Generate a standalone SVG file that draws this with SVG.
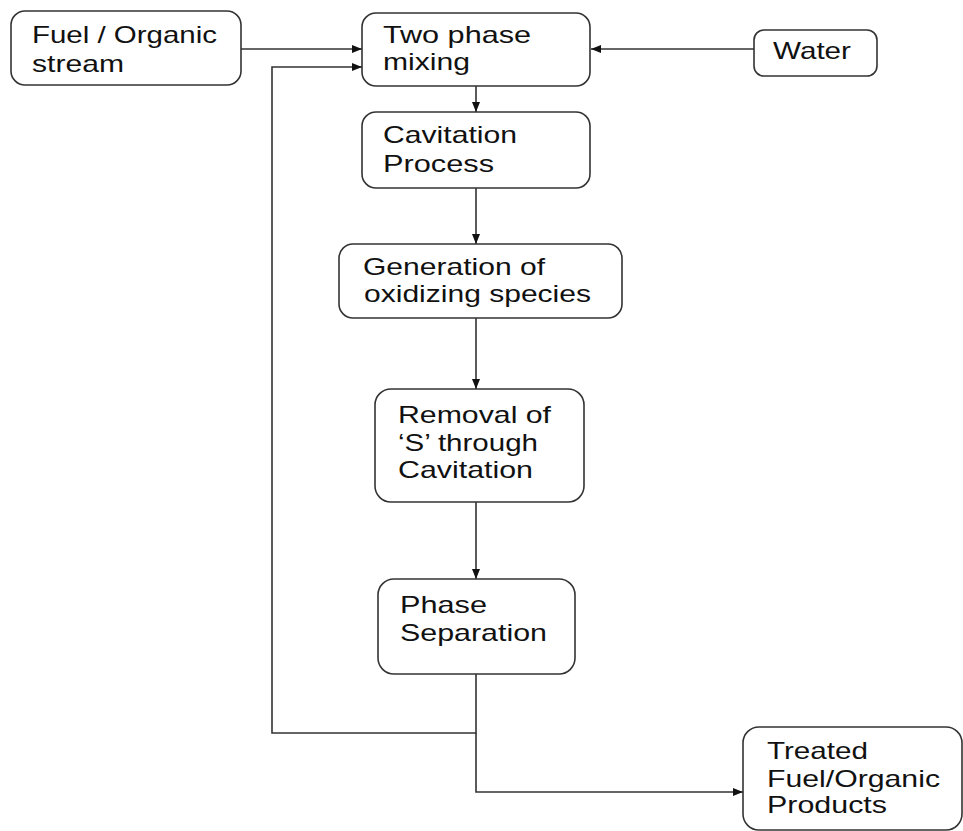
<svg xmlns="http://www.w3.org/2000/svg" width="963" height="831" viewBox="0 0 963 831">
<defs>
<style>
.box{fill:#fff;stroke:#333;stroke-width:1.6}
.t{font-family:"Liberation Sans",Arial,sans-serif;font-size:24px;fill:#111}
.c{fill:none;stroke:#333;stroke-width:1.6}
</style>
<marker id="ah" viewBox="0 0 10 8" refX="10" refY="4" markerWidth="10" markerHeight="8" markerUnits="userSpaceOnUse" orient="auto">
<path d="M0,0 L10,4 L0,8 z" fill="#111"/>
</marker>
</defs>
<rect width="963" height="831" fill="#fff"/>
<g id="connectors">
<line class="c" x1="241" y1="49" x2="362" y2="49" marker-end="url(#ah)"/>
<line class="c" x1="754" y1="49" x2="591" y2="49" marker-end="url(#ah)"/>
<polyline class="c" points="476,674 476,733 272,733 272,67 362,67" marker-end="url(#ah)"/>
<polyline class="c" points="476,733 476,792 743,792" marker-end="url(#ah)"/>
<line class="c" x1="476" y1="86" x2="476" y2="112" marker-end="url(#ah)"/>
<line class="c" x1="476" y1="188" x2="476" y2="244" marker-end="url(#ah)"/>
<line class="c" x1="476" y1="318" x2="476" y2="389" marker-end="url(#ah)"/>
<line class="c" x1="476" y1="502" x2="476" y2="579" marker-end="url(#ah)"/>
</g>
<g id="fuel">
<rect class="box" x="11" y="11" width="230" height="74" rx="14"/>
<text class="t" x="32" y="43" textLength="185" lengthAdjust="spacingAndGlyphs">Fuel / Organic</text>
<text class="t" x="32" y="72" textLength="92" lengthAdjust="spacingAndGlyphs">stream</text>
</g>
<g id="mixing">
<rect class="box" x="362" y="13" width="228" height="73" rx="14"/>
<text class="t" x="383" y="43" textLength="148" lengthAdjust="spacingAndGlyphs">Two phase</text>
<text class="t" x="383" y="70" textLength="87" lengthAdjust="spacingAndGlyphs">mixing</text>
</g>
<g id="water">
<rect class="box" x="754" y="30" width="123" height="46" rx="10"/>
<text class="t" x="773" y="59" textLength="78" lengthAdjust="spacingAndGlyphs">Water</text>
</g>
<g id="cavitation">
<rect class="box" x="362" y="112" width="228" height="76" rx="14"/>
<text class="t" x="383" y="143" textLength="134" lengthAdjust="spacingAndGlyphs">Cavitation</text>
<text class="t" x="383" y="172" textLength="111" lengthAdjust="spacingAndGlyphs">Process</text>
</g>
<g id="generation">
<rect class="box" x="339" y="244" width="283" height="74" rx="14"/>
<text class="t" x="363" y="275" textLength="182" lengthAdjust="spacingAndGlyphs">Generation of</text>
<text class="t" x="364" y="302" textLength="227" lengthAdjust="spacingAndGlyphs">oxidizing species</text>
</g>
<g id="removal">
<rect class="box" x="375" y="389" width="209" height="113" rx="16"/>
<text class="t" x="398" y="423" textLength="153" lengthAdjust="spacingAndGlyphs">Removal of</text>
<text class="t" x="398" y="451" textLength="140" lengthAdjust="spacingAndGlyphs">‘S’ through</text>
<text class="t" x="398" y="478" textLength="135" lengthAdjust="spacingAndGlyphs">Cavitation</text>
</g>
<g id="separation">
<rect class="box" x="378" y="579" width="197" height="95" rx="16"/>
<text class="t" x="400" y="613" textLength="87" lengthAdjust="spacingAndGlyphs">Phase</text>
<text class="t" x="400" y="641" textLength="147" lengthAdjust="spacingAndGlyphs">Separation</text>
</g>
<g id="treated">
<rect class="box" x="743" y="727" width="219" height="103" rx="16"/>
<text class="t" x="767" y="759" textLength="101" lengthAdjust="spacingAndGlyphs">Treated</text>
<text class="t" x="767" y="787" textLength="173" lengthAdjust="spacingAndGlyphs">Fuel/Organic</text>
<text class="t" x="767" y="813" textLength="120" lengthAdjust="spacingAndGlyphs">Products</text>
</g>
</svg>
